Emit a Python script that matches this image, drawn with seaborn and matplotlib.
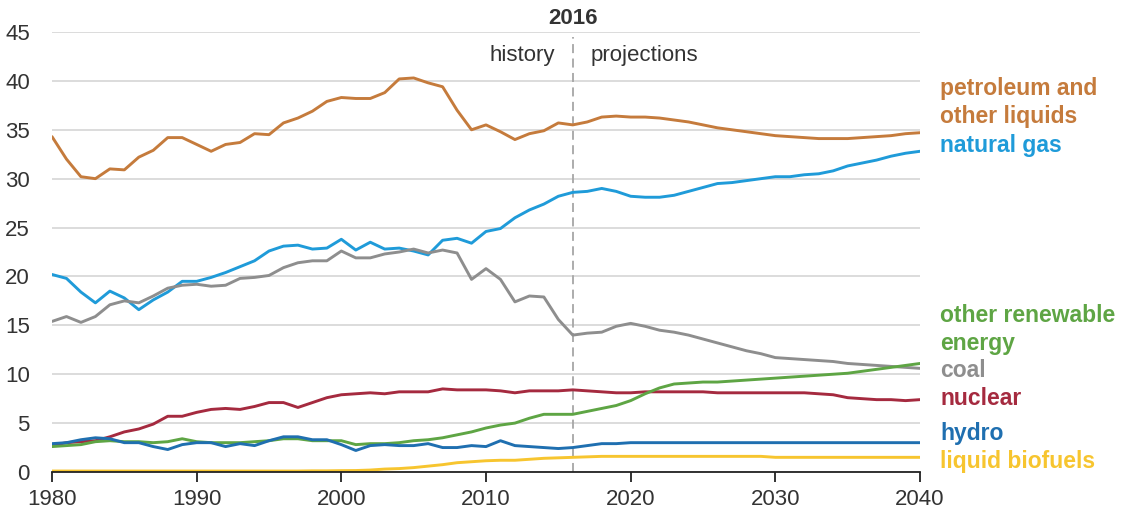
import numpy as np
import pandas as pd
import matplotlib
matplotlib.use("Agg")
import matplotlib.pyplot as plt
import seaborn as sns

years = list(range(1980, 2041))

petroleum = [34.3, 32.0, 30.2, 30.0, 31.0, 30.9, 32.2, 32.9, 34.2, 34.2,
             33.5, 32.8, 33.5, 33.7, 34.6, 34.5, 35.7, 36.2, 36.9, 37.9,
             38.3, 38.2, 38.2, 38.8, 40.2, 40.3, 39.8, 39.4, 37.0, 35.0,
             35.5, 34.8, 34.0, 34.6, 34.9, 35.7, 35.5, 35.8, 36.3, 36.4,
             36.3, 36.3, 36.2, 36.0, 35.8, 35.5, 35.2, 35.0, 34.8, 34.6,
             34.4, 34.3, 34.2, 34.1, 34.1, 34.1, 34.2, 34.3, 34.4, 34.6, 34.7]

natural_gas = [20.2, 19.8, 18.4, 17.3, 18.5, 17.8, 16.6, 17.6, 18.4, 19.5,
               19.5, 19.9, 20.4, 21.0, 21.6, 22.6, 23.1, 23.2, 22.8, 22.9,
               23.8, 22.7, 23.5, 22.8, 22.9, 22.6, 22.2, 23.7, 23.9, 23.4,
               24.6, 24.9, 26.0, 26.8, 27.4, 28.2, 28.6, 28.7, 29.0, 28.7,
               28.2, 28.1, 28.1, 28.3, 28.7, 29.1, 29.5, 29.6, 29.8, 30.0,
               30.2, 30.2, 30.4, 30.5, 30.8, 31.3, 31.6, 31.9, 32.3, 32.6, 32.8]

coal = [15.4, 15.9, 15.3, 15.9, 17.1, 17.5, 17.3, 18.0, 18.8, 19.1,
        19.2, 19.0, 19.1, 19.8, 19.9, 20.1, 20.9, 21.4, 21.6, 21.6,
        22.6, 21.9, 21.9, 22.3, 22.5, 22.8, 22.4, 22.7, 22.4, 19.7,
        20.8, 19.7, 17.4, 18.0, 17.9, 15.6, 14.0, 14.2, 14.3, 14.9,
        15.2, 14.9, 14.5, 14.3, 14.0, 13.6, 13.2, 12.8, 12.4, 12.1,
        11.7, 11.6, 11.5, 11.4, 11.3, 11.1, 11.0, 10.9, 10.8, 10.7, 10.6]

nuclear = [2.7, 3.0, 3.1, 3.2, 3.6, 4.1, 4.4, 4.9, 5.7, 5.7,
           6.1, 6.4, 6.5, 6.4, 6.7, 7.1, 7.1, 6.6, 7.1, 7.6,
           7.9, 8.0, 8.1, 8.0, 8.2, 8.2, 8.2, 8.5, 8.4, 8.4,
           8.4, 8.3, 8.1, 8.3, 8.3, 8.3, 8.4, 8.3, 8.2, 8.1,
           8.1, 8.2, 8.2, 8.2, 8.2, 8.2, 8.1, 8.1, 8.1, 8.1,
           8.1, 8.1, 8.1, 8.0, 7.9, 7.6, 7.5, 7.4, 7.4, 7.3, 7.4]

other_renewable = [2.6, 2.7, 2.8, 3.1, 3.2, 3.1, 3.1, 3.0, 3.1, 3.4,
                   3.1, 3.0, 3.0, 3.0, 3.1, 3.2, 3.4, 3.4, 3.2, 3.2,
                   3.2, 2.8, 2.9, 2.9, 3.0, 3.2, 3.3, 3.5, 3.8, 4.1,
                   4.5, 4.8, 5.0, 5.5, 5.9, 5.9, 5.9, 6.2, 6.5, 6.8,
                   7.3, 8.0, 8.6, 9.0, 9.1, 9.2, 9.2, 9.3, 9.4, 9.5,
                   9.6, 9.7, 9.8, 9.9, 10.0, 10.1, 10.3, 10.5, 10.7, 10.9, 11.1]

hydro = [2.9, 3.0, 3.3, 3.5, 3.4, 3.0, 3.0, 2.6, 2.3, 2.8,
         3.0, 3.0, 2.6, 2.9, 2.7, 3.2, 3.6, 3.6, 3.3, 3.3,
         2.8, 2.2, 2.7, 2.8, 2.7, 2.7, 2.9, 2.5, 2.5, 2.7,
         2.6, 3.2, 2.7, 2.6, 2.5, 2.4, 2.5, 2.7, 2.9, 2.9,
         3.0, 3.0, 3.0, 3.0, 3.0, 3.0, 3.0, 3.0, 3.0, 3.0,
         3.0, 3.0, 3.0, 3.0, 3.0, 3.0, 3.0, 3.0, 3.0, 3.0, 3.0]

liquid_biofuels = [0.1, 0.1, 0.1, 0.1, 0.1, 0.1, 0.1, 0.1, 0.1, 0.1,
                   0.1, 0.1, 0.1, 0.1, 0.1, 0.1, 0.1, 0.1, 0.12, 0.12,
                   0.14, 0.15, 0.2, 0.3, 0.35, 0.45, 0.6, 0.75, 0.95, 1.05,
                   1.15, 1.2, 1.2, 1.3, 1.4, 1.45, 1.5, 1.55, 1.6, 1.6,
                   1.6, 1.6, 1.6, 1.6, 1.6, 1.6, 1.6, 1.6, 1.6, 1.6,
                   1.5, 1.5, 1.5, 1.5, 1.5, 1.5, 1.5, 1.5, 1.5, 1.5, 1.5]

series_names = ["petroleum and\nother liquids", "natural gas", "coal", "nuclear",
                "other renewable\nenergy", "hydro", "liquid biofuels"]
series_values = [petroleum, natural_gas, coal, nuclear, other_renewable, hydro, liquid_biofuels]
colors = ["#C57B3C", "#1F9BD9", "#8E8E8E", "#A52A3F", "#5EA544", "#1F6FB0", "#F7C52F"]
label_y = [37.8, 33.4, 10.4, 7.5, 14.6, 3.9, 1.1]

x_ticks = [1980, 1990, 2000, 2010, 2020, 2030, 2040]
y_ticks = [0, 5, 10, 15, 20, 25, 30, 35, 40, 45]
divider_year = 2016

rows = []
for name, vals in zip(series_names, series_values):
    for yr, v in zip(years, vals):
        rows.append({"year": yr, "value": v, "series": name})
df = pd.DataFrame(rows)

sns.set_theme(style="white")
plt.rcParams['font.family'] = ['Liberation Sans', 'DejaVu Sans']

fig = plt.figure(figsize=(11.23, 5.13), dpi=100)
ax = fig.add_axes([52 / 1123, 1 - 472 / 513, 868 / 1123, 440 / 513])

sns.lineplot(data=df, x="year", y="value", hue="series", hue_order=series_names,
             palette=dict(zip(series_names, colors)), linewidth=2.1, legend=False,
             ax=ax, zorder=3)

ax.set_xlim(1980, 2040)
ax.set_ylim(0, 45)
ax.set_xticks(x_ticks)
ax.set_yticks(y_ticks)
ax.set_xlabel("")
ax.set_ylabel("")
ax.yaxis.grid(True, color="#D9D9D9", linewidth=1.3, zorder=0)
ax.xaxis.grid(False)
for s in ["top", "right", "left"]:
    ax.spines[s].set_visible(False)
ax.spines["bottom"].set_color("#222222")
ax.spines["bottom"].set_linewidth(1.3)
ax.spines["bottom"].set_zorder(4)
ax.tick_params(axis="x", which="both", bottom=True, length=7, width=1.3,
               color="#222222", labelsize=16, labelcolor="#333333", pad=5)
ax.tick_params(axis="y", left=False, length=0, labelsize=16, labelcolor="#333333", pad=16)

ax.axvline(divider_year, ymin=0, ymax=44.5 / 45, color="#A6A6A6", linestyle=(0, (5, 3)),
           linewidth=1.3, zorder=2)
ax.text(divider_year, 46.4, str(divider_year), ha="center", va="center",
        fontsize=16, fontweight="bold", color="#333333", clip_on=False)
ax.text(divider_year - 1.2, 42.6, "history", ha="right", va="center",
        fontsize=16, color="#333333")
ax.text(divider_year + 1.2, 42.6, "projections", ha="left", va="center",
        fontsize=16, color="#333333")

for name, col, ly in zip(series_names, colors, label_y):
    ax.text(2041.4, ly, name, ha="left", va="center", fontsize=16.5, fontweight="bold",
            color=col, linespacing=1.3, clip_on=False)

fig.savefig("out.png", dpi=100)
